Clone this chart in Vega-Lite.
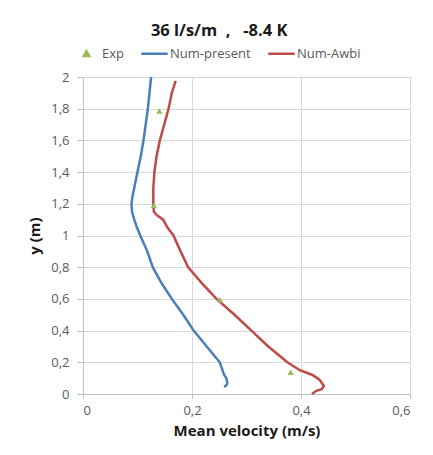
{
  "$schema": "https://vega.github.io/schema/vega-lite/v6.json",
  "width": 327,
  "height": 317,
  "autosize": {"type": "none"},
  "padding": {"left": 83, "top": 77, "right": 23, "bottom": 61},
  "background": "white",
  "title": {
    "text": "36 l/s/m\u00a0\u00a0,\u00a0\u00a0 -8.4 K",
    "anchor": "middle",
    "frame": "bounds",
    "offset": 0,
    "fontSize": 16.5,
    "font": "Open Sans",
    "fontWeight": "bold",
    "color": "#1a1a1a"
  },
  "config": {
    "view": {"stroke": null},
    "font": "Open Sans",
    "axis": {
      "gridColor": "#d9d9d9",
      "domainColor": "#bfbfbf",
      "tickColor": "#bfbfbf",
      "labelColor": "#595959",
      "labelFontSize": 13,
      "titleFontSize": 15,
      "titleFontWeight": "bold",
      "titleColor": "#1a1a1a",
      "labelFont": "Open Sans",
      "titleFont": "Open Sans"
    }
  },
  "data": {
    "values": [
      {"s": "Num-present", "y": 2.0, "x": 0.125},
      {"s": "Num-present", "y": 1.9, "x": 0.122},
      {"s": "Num-present", "y": 1.8, "x": 0.119},
      {"s": "Num-present", "y": 1.7, "x": 0.115},
      {"s": "Num-present", "y": 1.6, "x": 0.111},
      {"s": "Num-present", "y": 1.5, "x": 0.106},
      {"s": "Num-present", "y": 1.4, "x": 0.100},
      {"s": "Num-present", "y": 1.3, "x": 0.094},
      {"s": "Num-present", "y": 1.25, "x": 0.091},
      {"s": "Num-present", "y": 1.2, "x": 0.089},
      {"s": "Num-present", "y": 1.15, "x": 0.090},
      {"s": "Num-present", "y": 1.1, "x": 0.094},
      {"s": "Num-present", "y": 1.05, "x": 0.099},
      {"s": "Num-present", "y": 1.0, "x": 0.105},
      {"s": "Num-present", "y": 0.9, "x": 0.118},
      {"s": "Num-present", "y": 0.8, "x": 0.128},
      {"s": "Num-present", "y": 0.7, "x": 0.144},
      {"s": "Num-present", "y": 0.6, "x": 0.163},
      {"s": "Num-present", "y": 0.5, "x": 0.184},
      {"s": "Num-present", "y": 0.4, "x": 0.203},
      {"s": "Num-present", "y": 0.3, "x": 0.227},
      {"s": "Num-present", "y": 0.2, "x": 0.251},
      {"s": "Num-present", "y": 0.17, "x": 0.254},
      {"s": "Num-present", "y": 0.15, "x": 0.256},
      {"s": "Num-present", "y": 0.12, "x": 0.259},
      {"s": "Num-present", "y": 0.1, "x": 0.263},
      {"s": "Num-present", "y": 0.07, "x": 0.265},
      {"s": "Num-present", "y": 0.055, "x": 0.263},
      {"s": "Num-present", "y": 0.045, "x": 0.259},
      {"s": "Num-Awbi", "y": 1.975, "x": 0.170},
      {"s": "Num-Awbi", "y": 1.9, "x": 0.163},
      {"s": "Num-Awbi", "y": 1.8, "x": 0.157},
      {"s": "Num-Awbi", "y": 1.7, "x": 0.149},
      {"s": "Num-Awbi", "y": 1.6, "x": 0.141},
      {"s": "Num-Awbi", "y": 1.5, "x": 0.135},
      {"s": "Num-Awbi", "y": 1.4, "x": 0.131},
      {"s": "Num-Awbi", "y": 1.3, "x": 0.129},
      {"s": "Num-Awbi", "y": 1.2, "x": 0.129},
      {"s": "Num-Awbi", "y": 1.15, "x": 0.130},
      {"s": "Num-Awbi", "y": 1.13, "x": 0.135},
      {"s": "Num-Awbi", "y": 1.1, "x": 0.147},
      {"s": "Num-Awbi", "y": 1.05, "x": 0.155},
      {"s": "Num-Awbi", "y": 1.0, "x": 0.166},
      {"s": "Num-Awbi", "y": 0.9, "x": 0.179},
      {"s": "Num-Awbi", "y": 0.8, "x": 0.193},
      {"s": "Num-Awbi", "y": 0.7, "x": 0.218},
      {"s": "Num-Awbi", "y": 0.6, "x": 0.245},
      {"s": "Num-Awbi", "y": 0.5, "x": 0.278},
      {"s": "Num-Awbi", "y": 0.4, "x": 0.309},
      {"s": "Num-Awbi", "y": 0.3, "x": 0.340},
      {"s": "Num-Awbi", "y": 0.2, "x": 0.375},
      {"s": "Num-Awbi", "y": 0.15, "x": 0.398},
      {"s": "Num-Awbi", "y": 0.12, "x": 0.421},
      {"s": "Num-Awbi", "y": 0.09, "x": 0.434},
      {"s": "Num-Awbi", "y": 0.05, "x": 0.442},
      {"s": "Num-Awbi", "y": 0.03, "x": 0.438},
      {"s": "Num-Awbi", "y": 0.02, "x": 0.428},
      {"s": "Num-Awbi", "y": 0.0, "x": 0.420},
      {"s": "Exp", "y": 1.785, "x": 0.140},
      {"s": "Exp", "y": 1.19, "x": 0.130},
      {"s": "Exp", "y": 0.594, "x": 0.251},
      {"s": "Exp", "y": 0.137, "x": 0.381}
    ]
  },
  "encoding": {
    "x": {
      "field": "x",
      "type": "quantitative",
      "scale": {"domain": [0, 0.6], "nice": false},
      "axis": {
        "title": "Mean velocity (m/s)",
        "values": [0, 0.2, 0.4, 0.6],
        "labelExpr": "replace(format(datum.value, '~g'), '.', ',')",
        "tickSize": 4,
        "labelPadding": 6,
        "titlePadding": 6
      }
    },
    "y": {
      "field": "y",
      "type": "quantitative",
      "scale": {"domain": [0, 2], "nice": false},
      "axis": {
        "title": "y (m)",
        "values": [0, 0.2, 0.4, 0.6, 0.8, 1, 1.2, 1.4, 1.6, 1.8, 2],
        "labelExpr": "replace(format(datum.value, '~g'), '.', ',')",
        "tickSize": 6,
        "labelPadding": 8,
        "titlePadding": 8
      }
    },
    "color": {
      "field": "s",
      "type": "nominal",
      "scale": {
        "domain": ["Exp", "Num-present", "Num-Awbi"],
        "range": ["#9bbb59", "#4a7ebb", "#be4b48"]
      },
      "legend": {
        "title": null,
        "orient": "none",
        "direction": "horizontal",
        "legendX": -11,
        "legendY": -38,
        "labelFontSize": 13,
        "labelColor": "#595959",
        "labelFont": "Open Sans",
        "columnPadding": 12,
        "labelOffset": 1,
        "symbolStrokeWidth": 2.5,
        "encode": {
          "symbols": {
            "update": {
              "shape": {"signal": "datum.value === 'Exp' ? 'triangle-up' : 'stroke'"},
              "size": {"signal": "datum.value === 'Exp' ? 30 : 700"},
              "stroke": {"scale": "color", "field": "value"},
              "fill": {"scale": "color", "field": "value"}
            }
          }
        }
      }
    }
  },
  "layer": [
    {
      "transform": [{"filter": "datum.s !== 'Exp'"}],
      "mark": {"type": "line", "strokeWidth": 2.5},
      "encoding": {
        "order": {"field": "y", "type": "quantitative"}
      }
    },
    {
      "transform": [{"filter": "datum.s === 'Exp'"}],
      "mark": {"type": "point", "shape": "triangle-up", "filled": true, "opacity": 1, "size": 40}
    }
  ]
}
